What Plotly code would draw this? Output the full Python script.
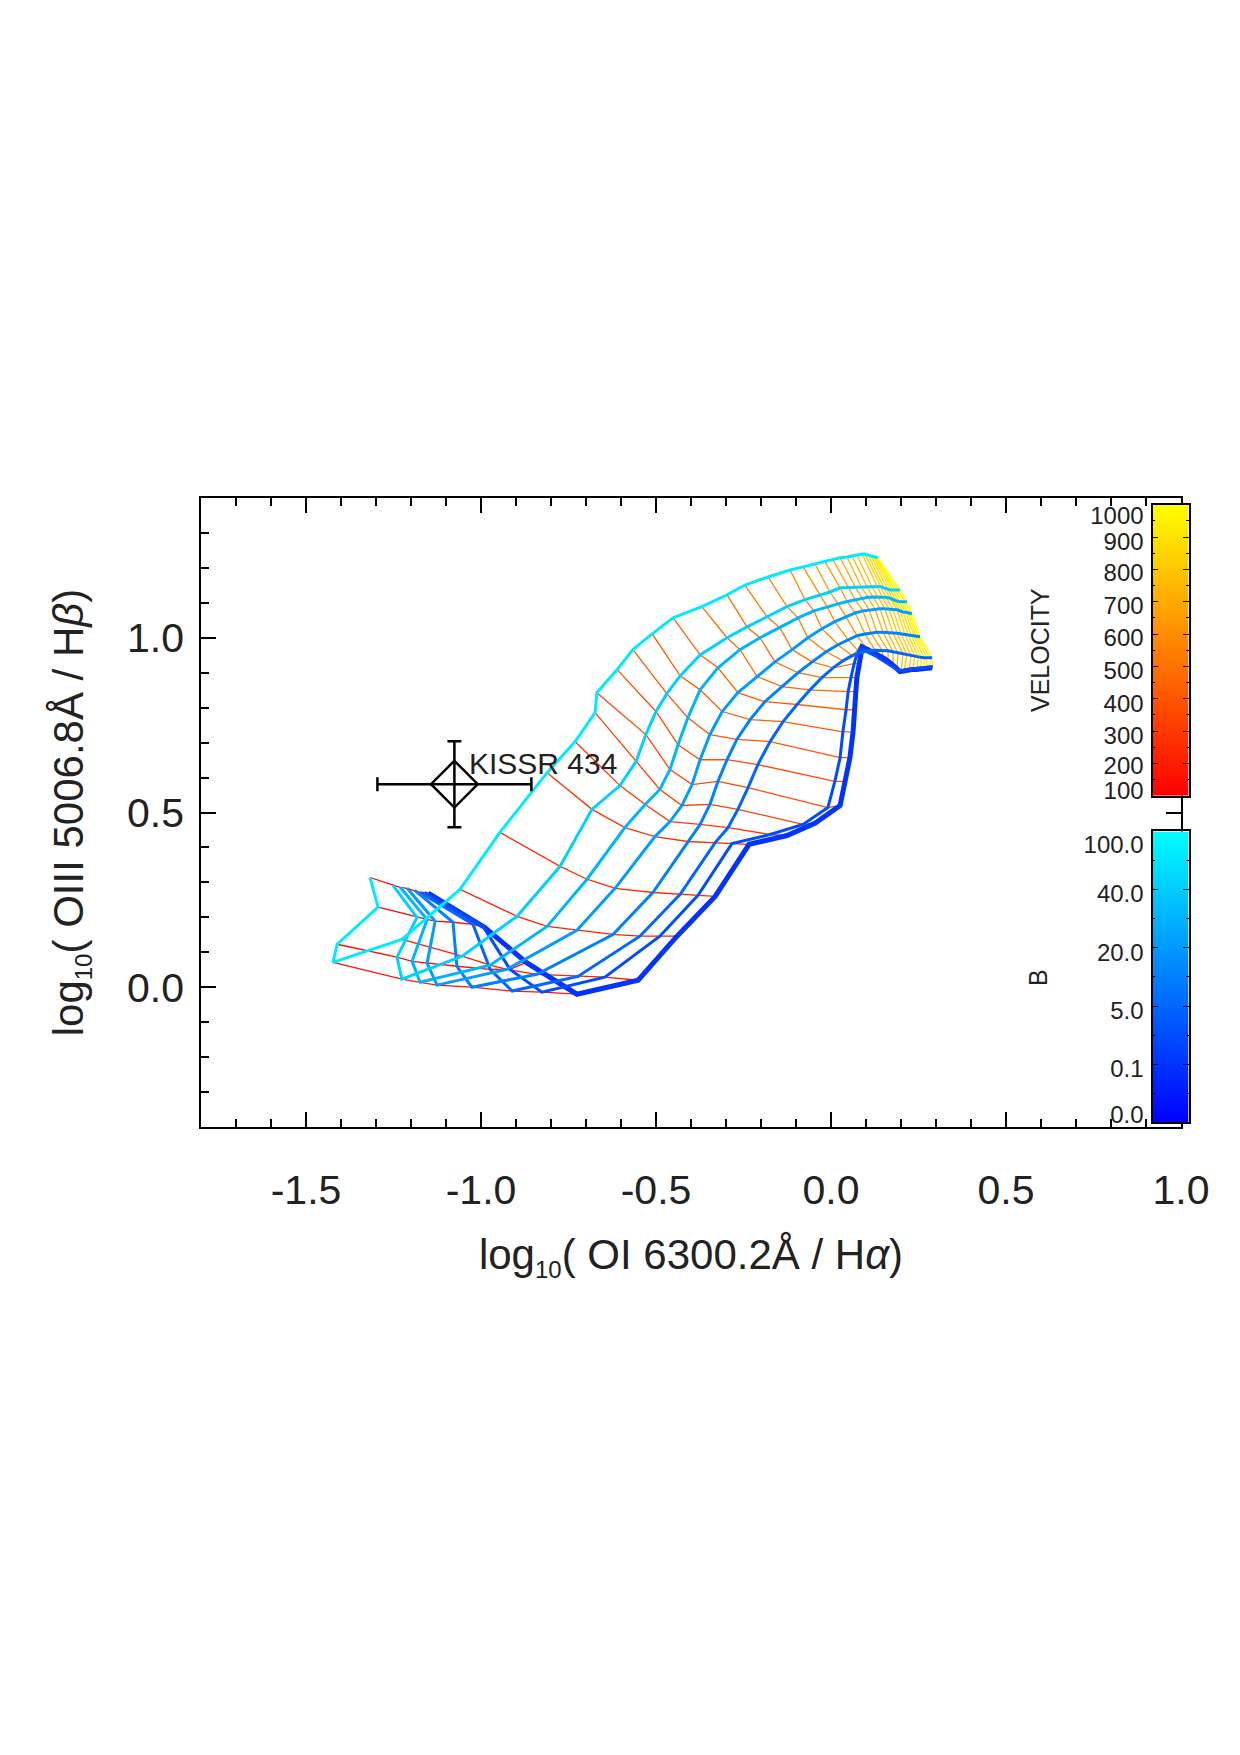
import plotly.graph_objects as go

# ---------------- data ----------------
velocities = [100, 125, 150, 175, 200, 225, 250, 275, 300, 325, 350, 375, 400, 425, 450,
              475, 500, 525, 550, 575, 600, 625, 650, 675, 700, 725, 750, 775, 800, 825,
              850, 875, 900, 925, 950, 975, 1000]

# B model lines, from highest B (cyan) to lowest B (dark blue); one value per velocity
oi_c0 = [-1.317, -1.294, -1.411, -1.423, -1.226, -1.060, -0.946, -0.811, -0.731, -0.674, -0.669, -0.611, -0.566,
         -0.511, -0.451, -0.369, -0.297, -0.246, -0.180, -0.117, -0.080, -0.046, -0.017, 0.006, 0.026, 0.046,
         0.060, 0.074, 0.089, 0.097, 0.106, 0.114, 0.120, 0.126, 0.129, 0.131, 0.134]
oiii_c0 = [0.314, 0.229, 0.123, 0.071, 0.137, 0.280, 0.443, 0.614, 0.703, 0.786, 0.843, 0.909, 0.966, 1.011,
           1.057, 1.089, 1.123, 1.151, 1.174, 1.194, 1.203, 1.211, 1.217, 1.223, 1.229, 1.231, 1.234, 1.237,
           1.240, 1.239, 1.237, 1.234, 1.233, 1.231, 1.231, 1.230, 1.229]

oi_c1 = [-1.251, -1.183, -1.240, -1.226, -1.054, -0.897, -0.774, -0.683, -0.603, -0.557, -0.529, -0.500, -0.469,
         -0.431, -0.374, -0.297, -0.240, -0.183, -0.126, -0.074, -0.031, -0.003, 0.026, 0.049, 0.069, 0.086,
         0.103, 0.117, 0.131, 0.143, 0.151, 0.160, 0.169, 0.177, 0.183, 0.191, 0.197]
oiii_c1 = [0.291, 0.200, 0.086, 0.023, 0.089, 0.203, 0.346, 0.509, 0.577, 0.646, 0.723, 0.789, 0.840, 0.891,
           0.951, 1.000, 1.031, 1.060, 1.089, 1.109, 1.123, 1.131, 1.143, 1.144, 1.146, 1.146, 1.146, 1.146,
           1.146, 1.146, 1.143, 1.140, 1.137, 1.137, 1.137, 1.137, 1.137]

oi_c2 = [-1.231, -1.154, -1.197, -1.174, -0.974, -0.811, -0.697, -0.589, -0.531, -0.489, -0.460, -0.437, -0.409,
         -0.374, -0.323, -0.260, -0.203, -0.146, -0.094, -0.049, -0.011, 0.020, 0.046, 0.069, 0.089, 0.106,
         0.120, 0.134, 0.146, 0.157, 0.169, 0.177, 0.186, 0.194, 0.203, 0.211, 0.217]
oiii_c2 = [0.286, 0.194, 0.074, 0.014, 0.063, 0.174, 0.309, 0.457, 0.523, 0.566, 0.623, 0.694, 0.771, 0.851,
           0.914, 0.966, 1.000, 1.029, 1.057, 1.077, 1.089, 1.097, 1.104, 1.109, 1.113, 1.116, 1.117, 1.117,
           1.117, 1.116, 1.113, 1.109, 1.106, 1.104, 1.103, 1.103, 1.103]

oi_c3 = [-1.211, -1.131, -1.154, -1.126, -0.926, -0.726, -0.617, -0.503, -0.460, -0.426, -0.397, -0.374, -0.346,
         -0.311, -0.266, -0.211, -0.160, -0.111, -0.066, -0.026, 0.011, 0.043, 0.069, 0.091, 0.109, 0.126,
         0.140, 0.154, 0.166, 0.177, 0.189, 0.197, 0.206, 0.214, 0.220, 0.226, 0.231]
oiii_c3 = [0.283, 0.189, 0.069, 0.006, 0.051, 0.163, 0.283, 0.431, 0.474, 0.520, 0.580, 0.651, 0.723, 0.789,
           0.843, 0.889, 0.931, 0.966, 1.000, 1.026, 1.046, 1.060, 1.071, 1.077, 1.080, 1.081, 1.083, 1.083,
           1.083, 1.081, 1.080, 1.077, 1.074, 1.073, 1.071, 1.070, 1.069]

oi_c4 = [-1.189, -1.080, -1.069, -1.026, -0.840, -0.623, -0.509, -0.409, -0.374, -0.346, -0.323, -0.297, -0.269,
         -0.231, -0.189, -0.140, -0.094, -0.054, -0.014, 0.020, 0.049, 0.074, 0.097, 0.114, 0.131, 0.149,
         0.163, 0.177, 0.189, 0.200, 0.211, 0.220, 0.229, 0.237, 0.243, 0.249, 0.254]
oiii_c4 = [0.277, 0.186, 0.060, 0.000, 0.037, 0.151, 0.271, 0.417, 0.466, 0.523, 0.589, 0.651, 0.709, 0.766,
           0.817, 0.860, 0.900, 0.931, 0.960, 0.980, 0.994, 1.006, 1.011, 1.014, 1.016, 1.016, 1.014, 1.014,
           1.013, 1.011, 1.010, 1.009, 1.007, 1.006, 1.004, 1.003, 1.003]

oi_c5 = [-1.174, -1.023, -0.974, -0.911, -0.723, -0.546, -0.431, -0.331, -0.294, -0.266, -0.237, -0.209, -0.174,
         -0.137, -0.097, -0.060, -0.026, 0.006, 0.034, 0.060, 0.083, 0.106, 0.126, 0.146, 0.163, 0.177,
         0.191, 0.206, 0.217, 0.229, 0.240, 0.249, 0.257, 0.266, 0.274, 0.283, 0.289]
oiii_c5 = [0.271, 0.180, 0.051, -0.011, 0.031, 0.146, 0.266, 0.414, 0.457, 0.509, 0.571, 0.637, 0.703, 0.760,
           0.809, 0.851, 0.886, 0.914, 0.934, 0.949, 0.957, 0.963, 0.964, 0.964, 0.963, 0.960, 0.957, 0.954,
           0.951, 0.949, 0.947, 0.946, 0.944, 0.943, 0.943, 0.943, 0.943]

oi_c6 = [-1.160, -0.994, -0.917, -0.826, -0.646, -0.489, -0.380, -0.283, -0.174, -0.080, -0.009, 0.011, 0.026,
         0.034, 0.043, 0.049, 0.057, 0.066, 0.074, 0.083, 0.097, 0.114, 0.131, 0.149, 0.163, 0.177, 0.189,
         0.200, 0.211, 0.223, 0.234, 0.246, 0.257, 0.266, 0.274, 0.283, 0.291]
oiii_c6 = [0.271, 0.174, 0.051, -0.014, 0.029, 0.146, 0.263, 0.411, 0.437, 0.466, 0.514, 0.589, 0.657, 0.731,
           0.794, 0.846, 0.886, 0.926, 0.951, 0.971, 0.963, 0.954, 0.946, 0.934, 0.926, 0.917, 0.909, 0.906,
           0.907, 0.909, 0.911, 0.913, 0.914, 0.916, 0.917, 0.917, 0.917]

oi_c7 = [-1.151, -0.989, -0.871, -0.726, -0.551, -0.440, -0.331, -0.234, -0.126, -0.046, 0.026, 0.040, 0.054,
         0.063, 0.069, 0.071, 0.074, 0.080, 0.083, 0.089, 0.106, 0.123, 0.140, 0.154, 0.166, 0.177, 0.189,
         0.197, 0.209, 0.220, 0.231, 0.243, 0.254, 0.266, 0.274, 0.283, 0.289]
oiii_c7 = [0.269, 0.171, 0.071, -0.020, 0.020, 0.146, 0.260, 0.409, 0.434, 0.469, 0.520, 0.589, 0.657, 0.731,
           0.794, 0.846, 0.886, 0.926, 0.951, 0.974, 0.966, 0.957, 0.949, 0.940, 0.931, 0.923, 0.911, 0.903,
           0.906, 0.906, 0.909, 0.909, 0.911, 0.911, 0.914, 0.914, 0.914]

b_oi = [oi_c0, oi_c1, oi_c2, oi_c3, oi_c4, oi_c5, oi_c6, oi_c7]
b_oiii = [oiii_c0, oiii_c1, oiii_c2, oiii_c3, oiii_c4, oiii_c5, oiii_c6, oiii_c7]

# observed galaxy
kissr_name = "KISSR 434"
kissr_oi = -1.076
kissr_oiii = 0.581
kissr_oi_err = 0.22
kissr_oiii_err = 0.123

# axis / colorbar ticks
x_tick_vals = [-1.5, -1.0, -0.5, 0.0, 0.5, 1.0]
x_tick_text = ["-1.5", "-1.0", "-0.5", "0.0", "0.5", "1.0"]
y_tick_vals = [0.0, 0.5, 1.0]
y_tick_text = ["0.0", "0.5", "1.0"]
vel_tick_vals = [100, 200, 300, 400, 500, 600, 700, 800, 900, 1000]
vel_tick_text = ["100", "200", "300", "400", "500", "600", "700", "800", "900", "1000"]
# where the velocity labels sit (IDL nudges them inside the bar)
vel_label_pos = [117, 194, 287, 386, 488, 588, 689, 789, 886, 966]
b_tick_vals = [0, 1, 2, 3, 4, 5]
b_tick_text = ["0.0", "0.1", "5.0", "20.0", "40.0", "100.0"]
b_label_pos = [0.13, 0.93, 1.93, 2.92, 3.93, 4.77]

# ---------------- styles ----------------
b_color_pos = [0.92, 0.82, 0.71, 0.61, 0.51, 0.40, 0.30, 0.20]
b_widths = [3, 3, 3, 3, 3, 3, 3, 5]
FONT = "Liberation Sans, Arial, Helvetica, sans-serif"
TXT = "#222222"


def vel_color(v):
    g = int(round(255 * (v - 100) / 900.0))
    return f"rgb(255,{g},0)"


def b_color(p):
    g = int(round(255 * p))
    return f"rgb(0,{g},255)"


fig = go.Figure()

# constant-velocity lines
for k, v in enumerate(velocities):
    fig.add_trace(go.Scatter(
        x=[line[k] for line in b_oi], y=[line[k] for line in b_oiii],
        mode="lines", line=dict(color=vel_color(v), width=1.3),
        hoverinfo="skip", showlegend=False))

# constant-B lines (lowest B first so cyan sits on top)
for i in reversed(range(len(b_oi))):
    fig.add_trace(go.Scatter(
        x=b_oi[i], y=b_oiii[i], mode="lines",
        line=dict(color=b_color(b_color_pos[i]), width=b_widths[i]),
        hoverinfo="skip", showlegend=False))

# observed point
fig.add_trace(go.Scatter(
    x=[kissr_oi], y=[kissr_oiii], mode="markers",
    marker=dict(symbol="diamond-open", size=36, color="black", line=dict(width=2.5, color="black")),
    error_x=dict(type="data", array=[kissr_oi_err], color="black", thickness=2.5, width=7),
    error_y=dict(type="data", array=[kissr_oiii_err], color="black", thickness=2.5, width=7),
    hoverinfo="skip", showlegend=False))

# colour bars drawn as heatmaps on their own axes
fig.add_trace(go.Heatmap(
    x=[0, 1], y=velocities, z=[[v, v] for v in velocities],
    colorscale=[[0, "rgb(255,0,0)"], [1, "rgb(255,255,0)"]], zmin=100, zmax=1000,
    zsmooth="best", showscale=False, hoverinfo="skip", xaxis="x2", yaxis="y2"))
fig.add_trace(go.Heatmap(
    x=[0, 1], y=b_tick_vals, z=[[b, b] for b in b_tick_vals],
    colorscale=[[0, "rgb(0,0,255)"], [1, "rgb(0,255,255)"]], zmin=0, zmax=5,
    zsmooth="best", showscale=False, hoverinfo="skip", xaxis="x3", yaxis="y3"))

main_axis = dict(showgrid=False, zeroline=False, showline=True, linecolor="black", linewidth=1.5,
                 mirror="allticks", ticks="inside", ticklen=15, tickwidth=1.5, tickcolor="black",
                 tickmode="array", tickfont=dict(size=41, color=TXT, family=FONT))

bar_y = dict(side="left", ticks="inside", ticklen=6, tickwidth=1, tickcolor="black", mirror="allticks",
             showline=True, linecolor="black", linewidth=1.5, showgrid=False, zeroline=False,
             showticklabels=False, tickmode="array")
label_y = dict(side="left", ticks="", showline=False, showgrid=False, zeroline=False,
               tickmode="array", tickfont=dict(size=24, color=TXT, family=FONT), ticklabelstandoff=8)

SUB10 = "<sub><span style='font-size:24px'>10</span></sub>"

fig.update_layout(
    width=1240, height=1755, autosize=False,
    margin=dict(l=201, r=50, t=498, b=628, pad=0),
    paper_bgcolor="white", plot_bgcolor="white", showlegend=False,
    font=dict(family=FONT, color=TXT),
    xaxis=dict(main_axis, domain=[0, 980 / 989], range=[-1.8, 1.0],
               tickvals=x_tick_vals, ticktext=x_tick_text, ticklabelstandoff=26,
               minor=dict(ticks="inside", ticklen=8, tickwidth=1.5, tickcolor="black",
                          tickmode="linear", tick0=0, dtick=0.1),
               title=dict(text="log" + SUB10 + "( OI 6300.2Å / H<i>α</i>)",
                          font=dict(size=42, color=TXT, family=FONT), standoff=28)),
    yaxis=dict(main_axis, domain=[0, 1], range=[-0.4, 1.4],
               tickvals=y_tick_vals, ticktext=y_tick_text, ticklabelstandoff=7,
               minor=dict(ticks="inside", ticklen=8, tickwidth=1.5, tickcolor="black",
                          tickmode="linear", tick0=0, dtick=0.1),
               title=dict(text="log" + SUB10 + "( OIII 5006.8Å / H<i>β</i>)",
                          font=dict(size=42, color=TXT, family=FONT), standoff=30)),
    xaxis2=dict(domain=[0.9622, 0.9985], anchor="y2", range=[0, 1], showticklabels=False,
                ticks="", showgrid=False, zeroline=False, showline=True, mirror=True,
                linecolor="black", linewidth=1.5),
    yaxis2=dict(bar_y, domain=[0.5267, 0.9893], anchor="x2", range=[100, 1000], tickvals=vel_tick_vals,
                minor=dict(ticks="inside", ticklen=3, tickcolor="black", tickmode="linear", tick0=100, dtick=50)),
    yaxis4=dict(label_y, domain=[0.5267, 0.9893], anchor="x2", overlaying="y2", range=[100, 1000],
                tickvals=vel_label_pos, ticktext=vel_tick_text),
    xaxis3=dict(domain=[0.9622, 0.9985], anchor="y3", range=[0, 1], showticklabels=False,
                ticks="", showgrid=False, zeroline=False, showline=True, mirror=True,
                linecolor="black", linewidth=1.5),
    yaxis3=dict(bar_y, domain=[0.0073, 0.4698], anchor="x3", range=[0, 5], tickvals=b_tick_vals,
                minor=dict(ticks="inside", ticklen=3, tickcolor="black", tickmode="linear", tick0=0, dtick=0.5)),
    yaxis5=dict(label_y, domain=[0.0073, 0.4698], anchor="x3", overlaying="y3", range=[0, 5],
                tickvals=b_label_pos, ticktext=b_tick_text),
    annotations=[
        dict(text="VELOCITY", xref="paper", yref="paper", x=0.8483, y=0.7583, textangle=-90,
             showarrow=False, font=dict(size=25, color=TXT, family=FONT), xanchor="center", yanchor="middle"),
        dict(text="B", xref="paper", yref="paper", x=0.8463, y=0.2385, textangle=-90,
             showarrow=False, font=dict(size=25, color=TXT, family=FONT), xanchor="center", yanchor="middle"),
        dict(text=kissr_name, xref="x", yref="y", x=-1.04, y=0.64, showarrow=False,
             xanchor="left", yanchor="middle", font=dict(size=30, color=TXT, family=FONT)),
    ],
)

# invisible traces so the label-only axes are drawn
fig.add_trace(go.Scatter(x=[None], y=[None], xaxis="x2", yaxis="y4", showlegend=False, hoverinfo="skip"))
fig.add_trace(go.Scatter(x=[None], y=[None], xaxis="x3", yaxis="y5", showlegend=False, hoverinfo="skip"))

fig.write_html("out.html")
